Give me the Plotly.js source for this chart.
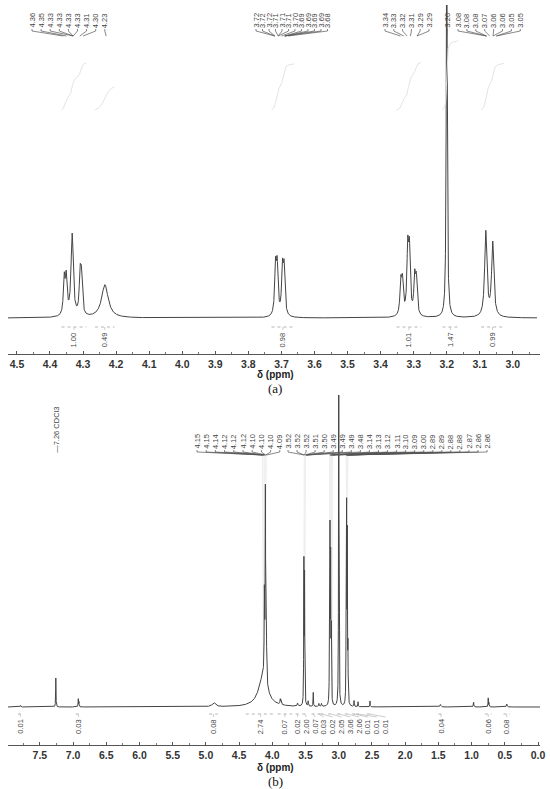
<!DOCTYPE html>
<html><head><meta charset="utf-8">
<script src="https://cdn.plot.ly/plotly-3.0.1.min.js"></script>
<style>html,body{margin:0;padding:0;background:#fff}#chart{width:550px;height:789px}</style>
</head><body><div id="chart"></div>
<script>
// ================= DATA : panel (a) =================
const peakPpmA    = [4.357, 4.351, 4.333, 4.309, 4.305, 4.234, 3.718, 3.713, 3.697, 3.692, 3.339, 3.334, 3.318, 3.313, 3.297, 3.292, 3.200, 3.082, 3.061];
const peakHeightA = [36, 36, 82, 37, 36, 33, 47, 47, 45, 45, 32, 32, 63, 61, 36, 34, 420, 85, 74];
const peakWidthA  = [0.003, 0.003, 0.004, 0.003, 0.003, 0.012, 0.003, 0.003, 0.003, 0.003, 0.003, 0.003, 0.003, 0.003, 0.003, 0.003, 0.0017, 0.004, 0.004];
const integralValA  = [1.00, 0.49, 0.98, 1.01, 1.47, 0.99];
const integralFromA = [4.365, 4.264, 3.730, 3.352, 3.213, 3.096];
const integralToA   = [4.290, 4.205, 3.661, 3.277, 3.165, 3.027];
const peakLabelsA = [
  ["4.36","4.35","4.33","4.33","4.33","4.33","4.31","4.30","4.23"],
  ["3.72","3.72","3.72","3.71","3.71","3.71","3.70","3.69","3.69","3.69","3.69","3.68"],
  ["3.34","3.33","3.32","3.31","3.29","3.29"],
  ["3.20"],
  ["3.08","3.08","3.08","3.07","3.06","3.06","3.05","3.05"]
];

// ================= DATA : panel (b) =================
const peakPpmB    = [7.79, 7.26, 6.922, 6.912, 4.88, 4.14, 4.120, 4.105, 4.092, 3.880, 3.868, 3.62, 3.525, 3.515, 3.46, 3.384, 3.30, 3.26, 3.140, 3.132, 3.122, 3.112, 3.000, 2.890, 2.882, 2.872, 2.862, 2.77, 2.71, 2.53, 1.47, 0.97, 0.750, 0.738, 0.47];
const peakHeightB = [1.5, 29, 8, 5, 4, 30, 80, 185, 90, 5, 4, 3, 140, 125, 5, 14, 3, 3, 60, 166, 140, 70, 420, 60, 190, 160, 50, 6, 5, 6, 2.5, 5, 9, 4, 3];
const peakWidthB  = [0.005, 0.003, 0.003, 0.003, 0.03, 0.08, 0.004, 0.004, 0.004, 0.005, 0.005, 0.006, 0.003, 0.003, 0.004, 0.003, 0.005, 0.005, 0.003, 0.003, 0.003, 0.003, 0.003, 0.003, 0.003, 0.003, 0.003, 0.003, 0.003, 0.003, 0.008, 0.004, 0.003, 0.003, 0.006];
const integralValB  = [0.01, 0.03, 0.08, 2.74, 0.07, 0.02, 2.00, 0.07, 0.03, 0.02, 2.05, 3.06, 2.06, 0.01, 0.01, 0.01, 0.04, 0.06, 0.08];
const integralFromB = [7.83, 6.96, 4.95, 4.40, 3.92, 3.65, 3.55, 3.41, 3.32, 3.28, 3.16, 3.03, 2.91, 2.80, 2.74, 2.58, 1.50, 0.80, 0.52];
const integralToB   = [7.76, 6.88, 4.82, 3.95, 3.70, 3.59, 3.47, 3.36, 3.28, 3.22, 3.07, 2.97, 2.84, 2.74, 2.68, 2.50, 1.42, 0.70, 0.42];
const solventLabelB = "—7.26 CDCl3";
const solventPpmB = 7.26;
const peakLabelsB = [
  ["4.15","4.15","4.14","4.12","4.12","4.12","4.10","4.10","4.10","4.09"],
  ["3.52","3.52","3.52","3.51","3.50","3.49","3.49","3.49","3.48","3.14","3.13","3.12","3.11","3.10","3.09","3.00","2.89","2.89","2.88","2.88","2.87","2.86","2.86"]
];

// ================= LAYOUT CONSTANTS (pixels) =================
const W = 550, H = 789;
const PA = {x0: 8, x1: 540, r0: 4.527, r1: 2.918, top: 5, bottom: 354, base: 318};
const PB = {x0: 8, x1: 540, r0: 7.98, r1: -0.03, top: 395, bottom: 745, base: 707};
const groupPosA = [[32, 9.1], [256, 6.5], [385, 8.8], [447, 0], [458, 8.9]];
const groupPosB = [[197, 9.2], [288, 9.05]];
const pxToPpm = (P, px) => P.r0 - (px - P.x0) / (P.x1 - P.x0) * (P.r0 - P.r1);
const pyToVal = (P, py) => P.base - py;

function specAt(ppm, h, w, x) {
  let s = 0;
  for (let i = 0; i < ppm.length; i++) { const d = (x - ppm[i]) / w[i]; s += h[i] / (1 + d * d); }
  return s;
}
function buildSpec(ppm, h, w, hi, lo, step) {
  const xs = [], ys = [];
  const n = Math.round((hi - lo) / step);
  for (let k = 0; k <= n; k++) { const x = hi - k * step; xs.push(x); ys.push(specAt(ppm, h, w, x)); }
  return {xs, ys};
}

const specA = buildSpec(peakPpmA, peakHeightA, peakWidthA, pxToPpm(PA, 8), pxToPpm(PA, 537), 0.0003);
const specB = buildSpec(peakPpmB, peakHeightB, peakWidthB, pxToPpm(PB, 8), pxToPpm(PB, 540), 0.0008);

const lineCol = '#444';
const traces = [
  {x: specA.xs, y: specA.ys, xaxis: 'x', yaxis: 'y', mode: 'lines', line: {color: lineCol, width: 1}, hoverinfo: 'skip', showlegend: false},
  {x: specB.xs, y: specB.ys, xaxis: 'x2', yaxis: 'y2', mode: 'lines', line: {color: lineCol, width: 1}, hoverinfo: 'skip', showlegend: false}
];

// integral curves (a): cumulative area of each integrated region
const intStartA = pyToVal(PA, 110), intRisePerUnit = 47;
for (let k = 0; k < integralValA.length; k++) {
  const xs = [], ys = [];
  let cum = 0; const step = 0.0004;
  const vals = [];
  for (let x = integralFromA[k]; x >= integralToA[k]; x -= step) { cum += specAt(peakPpmA, peakHeightA, peakWidthA, x); xs.push(x); vals.push(cum); }
  for (const v of vals) ys.push(intStartA + v / cum * integralValA[k] * intRisePerUnit);
  traces.push({x: xs, y: ys, xaxis: 'x', yaxis: 'y', mode: 'lines', line: {color: '#e4e4e4', width: 1}, hoverinfo: 'skip', showlegend: false});
}

const annotations = [], shapes = [];
const lblFont = {family: 'Liberation Sans, Arial, sans-serif', size: 7.5, color: '#444'};

function peakLabels(P, groups, pos, xref, yref, botPx, midPx, convPx, ppm, h, w, dropCol) {
  groups.forEach((g, gi) => {
    const targets = new Set();
    g.forEach((t, i) => {
      const lx = pxToPpm(P, pos[gi][0] + i * pos[gi][1]);
      const tx = parseFloat(t);
      targets.add(tx);
      annotations.push({x: lx, y: pyToVal(P, botPx), xref, yref, text: t, textangle: -90, xanchor: 'center', yanchor: 'bottom',
        showarrow: false, font: lblFont, borderpad: 0});
      shapes.push({type: 'path', xref, yref, layer: 'above',
        path: `M ${lx},${pyToVal(P, botPx)} L ${lx},${pyToVal(P, midPx)} L ${tx},${pyToVal(P, convPx)}`,
        line: {color: '#555', width: 0.7}});
    });
    if (!dropCol) return;
    targets.forEach(tx => {
      let best = 0, bx = tx;
      for (let x = tx - 0.012; x <= tx + 0.012; x += 0.0005) { const v = specAt(ppm, h, w, x); if (v > best) { best = v; bx = x; } }
      if (best > 10) shapes.push({type: 'line', xref, yref, layer: 'below', x0: tx, x1: bx, y0: pyToVal(P, convPx), y1: best + 1,
        line: {color: dropCol, width: 0.8}});
    });
  });
}
peakLabels(PA, peakLabelsA, groupPosA, 'x', 'y', 29, 31, 36, peakPpmA, peakHeightA, peakWidthA, null);
peakLabels(PB, peakLabelsB, groupPosB, 'x2', 'y2', 450, 452, 455, peakPpmB, peakHeightB, peakWidthB, '#ececec');
annotations.push({x: solventPpmB, y: pyToVal(PB, 454), xref: 'x2', yref: 'y2', text: solventLabelB, textangle: -90,
  xanchor: 'center', yanchor: 'bottom', showarrow: false, font: lblFont, borderpad: 0});

function integrals(P, vals, from, to, xref, yref, barPx, lblPx, spread) {
  let prevPx = -1e9;
  vals.forEach((v, k) => {
    const c = (from[k] + to[k]) / 2;
    let cpx = P.x0 + (P.r0 - c) / (P.r0 - P.r1) * (P.x1 - P.x0);
    if (spread && cpx < prevPx + spread) cpx = prevPx + spread;
    prevPx = cpx;
    const lx = pxToPpm(P, cpx);
    shapes.push({type: 'line', xref, yref, x0: from[k], x1: to[k], y0: pyToVal(P, barPx), y1: pyToVal(P, barPx),
      line: {color: '#b5b5b5', width: 1, dash: 'dot'}});
    shapes.push({type: 'line', xref, yref, x0: c, x1: lx, y0: pyToVal(P, barPx), y1: pyToVal(P, lblPx - 1),
      line: {color: '#aaa', width: 0.6}});
    annotations.push({x: lx, y: pyToVal(P, lblPx), xref, yref, text: v.toFixed(2), textangle: -90, xanchor: 'center', yanchor: 'top',
      showarrow: false, font: lblFont, borderpad: 0});
  });
}
integrals(PA, integralValA, integralFromA, integralToA, 'x', 'y', 327, 331, 0);
integrals(PB, integralValB, integralFromB, integralToB, 'x2', 'y2', 714, 718, 8.8);

const titleFont = {family: 'Liberation Sans, Arial, sans-serif', size: 10, color: '#222', weight: 'bold'};
const capFont = {family: 'Liberation Serif, Times New Roman, serif', size: 13, color: '#111'};
annotations.push({x: 0.5, y: 1 - 375 / H, xref: 'paper', yref: 'paper', text: 'δ (ppm)', showarrow: false, font: titleFont, yanchor: 'middle'});
annotations.push({x: 0.5, y: 1 - 389 / H, xref: 'paper', yref: 'paper', text: '(a)', showarrow: false, font: capFont, yanchor: 'middle'});
annotations.push({x: 0.5, y: 1 - 767 / H, xref: 'paper', yref: 'paper', text: 'δ (ppm)', showarrow: false, font: titleFont, yanchor: 'middle'});
annotations.push({x: 0.5, y: 1 - 781 / H, xref: 'paper', yref: 'paper', text: '(b)', showarrow: false, font: capFont, yanchor: 'middle'});

const tickFont = {family: 'Liberation Sans, Arial, sans-serif', size: 10.5, color: '#333', weight: 'bold'};
function xax(P, dtick, minor, anchor) {
  return {domain: [P.x0 / W, P.x1 / W], range: [P.r0, P.r1], autorange: false, anchor,
    tickmode: 'linear', tick0: 0, dtick, tickformat: '.1f', ticks: 'inside', ticklen: 3, tickwidth: 1, tickcolor: '#555',
    minor: {dtick: minor, ticks: 'inside', ticklen: 2, tickcolor: '#777'},
    showline: true, linecolor: '#555', linewidth: 1, showgrid: false, zeroline: false, tickfont: tickFont, fixedrange: true};
}
function yax(P) {
  return {domain: [1 - P.bottom / H, 1 - P.top / H], range: [P.base - P.bottom, P.base - P.top], autorange: false,
    visible: false, showgrid: false, zeroline: false, fixedrange: true};
}
const layout = {
  width: W, height: H, margin: {l: 0, r: 0, t: 0, b: 0}, paper_bgcolor: '#fff', plot_bgcolor: '#fff', showlegend: false,
  xaxis: xax(PA, 0.1, 0.05, 'y'), yaxis: yax(PA),
  xaxis2: xax(PB, 0.5, 0.25, 'y2'), yaxis2: yax(PB),
  annotations, shapes
};
Plotly.newPlot('chart', traces, layout, {staticPlot: true, displayModeBar: false});
</script></body></html>
